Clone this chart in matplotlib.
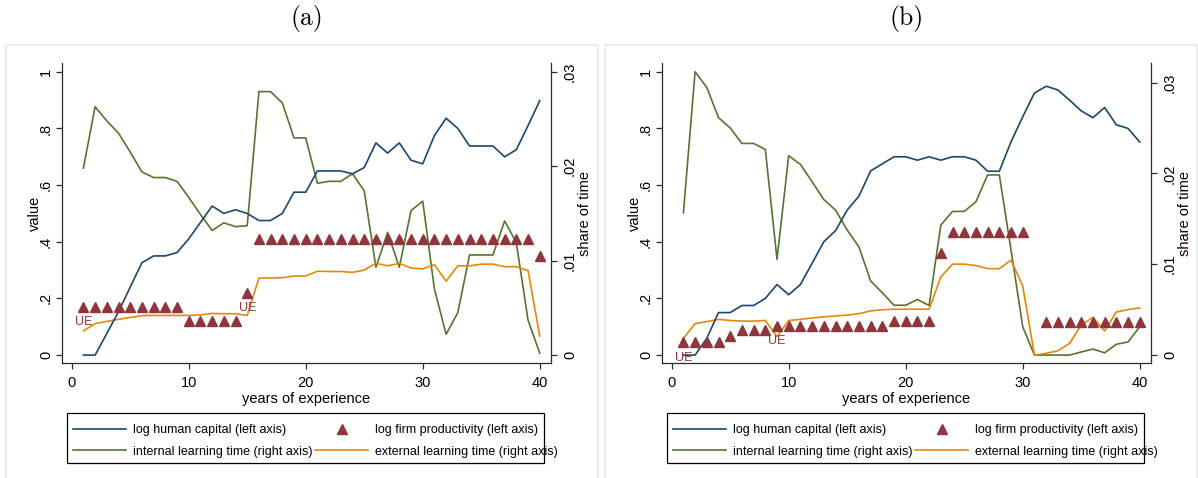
import numpy as np
import matplotlib
matplotlib.use("Agg")
import matplotlib.pyplot as plt
from matplotlib.patches import Rectangle
from matplotlib.lines import Line2D

plt.rcParams['font.family'] = ['Liberation Sans', 'DejaVu Sans']

years = np.arange(1, 41)

# panel (a)
hc_a = [0, 0, 0.076, 0.153, 0.24, 0.326, 0.35, 0.35, 0.362, 0.41,
        0.468, 0.526, 0.5, 0.513, 0.5, 0.475, 0.475, 0.5, 0.575, 0.575,
        0.65, 0.65, 0.65, 0.64, 0.662, 0.749, 0.713, 0.749, 0.688, 0.675,
        0.775, 0.836, 0.8, 0.738, 0.738, 0.738, 0.7, 0.725, 0.81, 0.898]
firm_a = [0.17, 0.17, 0.17, 0.17, 0.17, 0.17, 0.17, 0.17, 0.17, 0.12,
          0.12, 0.12, 0.12, 0.12, 0.22, 0.41, 0.41, 0.41, 0.41, 0.41,
          0.41, 0.41, 0.41, 0.41, 0.41, 0.41, 0.41, 0.41, 0.41, 0.41,
          0.41, 0.41, 0.41, 0.41, 0.41, 0.41, 0.41, 0.41, 0.41, 0.35]
int_a = [0.0198, 0.0263, 0.0248, 0.0235, 0.0215, 0.0194, 0.0188, 0.0188, 0.0184, 0.0167,
         0.0149, 0.0132, 0.0140, 0.0136, 0.0137, 0.0279, 0.0279, 0.0267, 0.0230, 0.0230,
         0.0182, 0.0184, 0.0184, 0.0192, 0.0174, 0.0093, 0.0130, 0.0093, 0.0153, 0.0163,
         0.0070, 0.0022, 0.0045, 0.0106, 0.0106, 0.0106, 0.0142, 0.0119, 0.0037, 0.0002]
ext_a = [0.00255, 0.00333, 0.00357, 0.00378, 0.00399, 0.00417, 0.0042, 0.0042, 0.0042, 0.0042,
         0.00426, 0.00441, 0.00438, 0.00438, 0.0042, 0.00816, 0.00816, 0.00819, 0.00837, 0.00837,
         0.00888, 0.00885, 0.00885, 0.00876, 0.009, 0.00972, 0.00945, 0.00972, 0.00921, 0.00912,
         0.00957, 0.00783, 0.00945, 0.00945, 0.00963, 0.00963, 0.00936, 0.00936, 0.00894, 0.00201]
ue_a = [1, 15]

# panel (b)
hc_b = [0, 0, 0.059, 0.15, 0.15, 0.175, 0.175, 0.2, 0.249, 0.213,
        0.249, 0.324, 0.4, 0.439, 0.512, 0.561, 0.65, 0.675, 0.7, 0.7,
        0.688, 0.7, 0.688, 0.7, 0.7, 0.688, 0.649, 0.649, 0.753, 0.841,
        0.925, 0.949, 0.936, 0.9, 0.862, 0.838, 0.874, 0.813, 0.8, 0.752]
firm_b = [0.045, 0.045, 0.045, 0.045, 0.067, 0.088, 0.088, 0.088, 0.102, 0.102,
          0.102, 0.102, 0.102, 0.102, 0.102, 0.102, 0.102, 0.102, 0.12, 0.12,
          0.12, 0.12, 0.36, 0.435, 0.435, 0.435, 0.435, 0.435, 0.435, 0.435,
          np.nan, 0.118, 0.118, 0.118, 0.118, 0.118, 0.118, 0.118, 0.118, 0.118]
int_b = [0.01566, 0.0312, 0.02948, 0.02615, 0.02502, 0.02331, 0.02331, 0.02265, 0.01055, 0.02196,
         0.021, 0.01909, 0.01713, 0.01597, 0.01376, 0.01192, 0.00817, 0.00686, 0.00549, 0.00549,
         0.00612, 0.00546, 0.01432, 0.01582, 0.01582, 0.01688, 0.01984, 0.01984, 0.01158, 0.00312,
         0, 0, 0, 0, 0.00034, 0.00066, 0.00025, 0.00119, 0.00144, 0.00312]
ext_b = [0.00184, 0.00346, 0.00368, 0.00393, 0.00381, 0.00374, 0.00374, 0.00381, 0.00203, 0.00381,
         0.00393, 0.00409, 0.00421, 0.00431, 0.0044, 0.00456, 0.00487, 0.00499, 0.00505, 0.00505,
         0.00505, 0.00505, 0.00861, 0.01002, 0.01002, 0.00986, 0.00952, 0.00952, 0.01045, 0.00761,
         0, 0.00019, 0.00047, 0.00128, 0.00331, 0.00415, 0.00265, 0.00474, 0.00502, 0.00518]
ue_b = [1, 9]

navy = '#1a476f'
maroon = '#90353b'
green = '#55752f'
orange = '#e8860c'
axcol = '#2b2b2b'

W, H = 1198, 478
fig = plt.figure(figsize=(W / 100, H / 100), dpi=100)

# light panel frames
for x0 in (6, 605):
    fig.patches.append(Rectangle((x0 / W, -0.05), 592 / W, (478 - 45) / H + 0.05,
                                 transform=fig.transFigure, fill=False,
                                 edgecolor='#e3eaee', lw=1.2))


def panel(xoff, hc, firm, internal, external, ue, rtop, title):
    ax = fig.add_axes([(61.7 + xoff) / W, (H - 363) / H, 488.8 / W, 299.7 / H])
    ax2 = ax.twinx()
    ax.set_zorder(ax2.get_zorder() + 1)
    ax.patch.set_visible(False)

    ax.plot(years, hc, color=navy, lw=1.2)
    ax.plot(years, firm, ls='none', marker='^', ms=7, color=maroon)
    ax2.plot(years, internal, color=green, lw=1.2)
    ax2.plot(years, external, color=orange, lw=1.2)
    for u in ue:
        ax.annotate('UE', (u, firm[u - 1]), xytext=(0, -11), textcoords='offset points',
                    ha='center', va='center', color=maroon, fontsize=9)

    ax.set_xlim(-0.855, 40.92)
    ax.set_ylim(-0.028, 1.03)
    ax2.set_ylim(-0.028 * rtop, 1.03 * rtop)

    ax.set_xticks([0, 10, 20, 30, 40])
    ax.set_yticks([0, 0.2, 0.4, 0.6, 0.8, 1])
    ax.set_yticklabels(['0', '.2', '.4', '.6', '.8', '1'])
    ax2.set_yticks([0, 0.01, 0.02, 0.03])
    ax2.set_yticklabels(['0', '.01', '.02', '.03'])

    for a in (ax, ax2):
        a.spines['top'].set_visible(False)
        for s in a.spines.values():
            s.set_color(axcol)
            s.set_linewidth(0.9)
        a.tick_params(direction='out', length=4.3, width=0.9, color=axcol,
                      labelsize=10.5)
    ax.spines['right'].set_visible(False)
    ax2.spines['left'].set_visible(False)
    ax2.spines['bottom'].set_visible(False)
    for lab in ax.get_yticklabels() + ax2.get_yticklabels():
        lab.set_rotation(90)
        lab.set_va('center')
        lab.set_ha('center')
    ax.tick_params(axis='x', pad=5)
    ax.tick_params(axis='y', pad=7)
    ax2.tick_params(axis='y', pad=9.7)

    ax.set_xlabel('years of experience', fontsize=10.5, labelpad=1.5)
    ax.set_ylabel('value', fontsize=10.5, labelpad=-2)
    ax2.set_ylabel('share of time', fontsize=10.5, rotation=90, labelpad=0.5)

    fig.text((307 + xoff) / W, 1 - 19 / H, title, family='cmr10', fontsize=18.5,
             ha='center', va='center')

    # legend box, Stata-style (text may overrun the frame)
    fig.patches.append(Rectangle(((67 + xoff) / W, (H - 463) / H), 477 / W, 50 / H,
                                 transform=fig.transFigure, fill=False,
                                 edgecolor='black', lw=0.9))
    handles = [Line2D([], [], color=navy, lw=1.2),
               Line2D([], [], color=green, lw=1.2),
               Line2D([], [], ls='none', marker='^', ms=7, color=maroon),
               Line2D([], [], color=orange, lw=1.2)]
    labels = ['log human capital (left axis)', 'internal learning time (right axis)',
              'log firm productivity (left axis)', 'external learning time (right axis)']
    fig.legend(handles, labels, ncol=2, loc='center left',
               bbox_to_anchor=((73 + xoff) / W, (H - 441) / H),
               fontsize=9, frameon=False, handlelength=4.24, handletextpad=0.56,
               columnspacing=0.2, labelspacing=0.77, borderpad=0,
               borderaxespad=0)


panel(0, hc_a, firm_a, int_a, ext_a, ue_a, 0.03, '(a)')
panel(600, hc_b, firm_b, int_b, ext_b, ue_b, 0.0312, '(b)')

fig.savefig('out.png', dpi=100)
